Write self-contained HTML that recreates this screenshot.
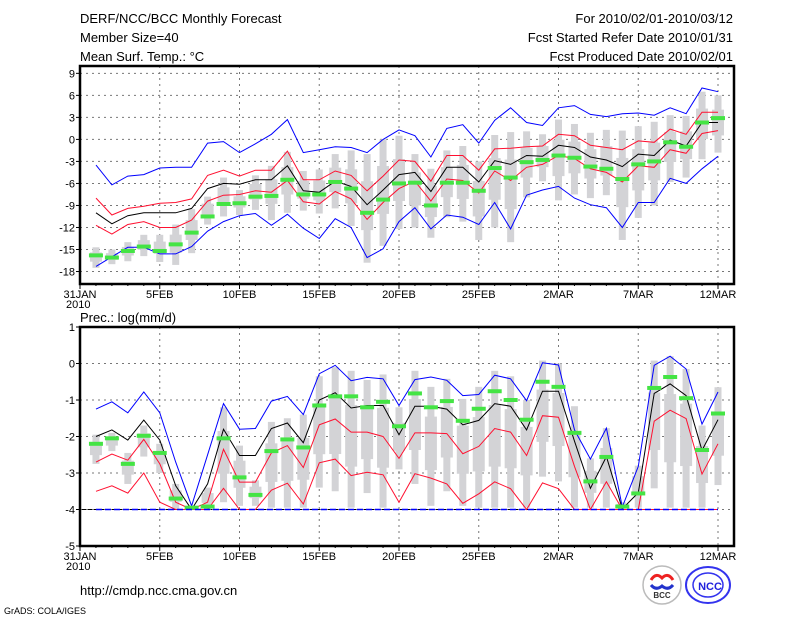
<!DOCTYPE html>
<html><head><meta charset="utf-8"><style>
html,body{margin:0;padding:0;background:#fff}
svg{display:block}
text{font-family:"Liberation Sans",sans-serif;fill:#000}
</style></head><body>
<svg id="s" width="800" height="618" xmlns="http://www.w3.org/2000/svg">
<text x="80" y="23" font-size="13">DERF/NCC/BCC Monthly Forecast</text>
<text x="80" y="42" font-size="13">Member Size=40</text>
<text x="80" y="61" font-size="13">Mean Surf. Temp.: °C</text>
<text x="733" y="23" font-size="13" text-anchor="end">For 2010/02/01-2010/03/12</text>
<text x="733" y="42" font-size="13" text-anchor="end">Fcst Started Refer Date 2010/01/31</text>
<text x="733" y="61" font-size="13" text-anchor="end">Fcst Produced Date 2010/02/01</text>
<text x="80" y="322" font-size="13">Prec.: log(mm/d)</text>
<text x="80" y="595" font-size="13">http://cmdp.ncc.cma.gov.cn</text>
<text x="4" y="614" font-size="9">GrADS: COLA/IGES</text>
<g>
<circle cx="662" cy="585" r="19" fill="#fff" stroke="#bbb" stroke-width="1.5"/>
<path d="M651 580 q5 -8 11 -2 q6 -6 11 2" fill="none" stroke="#e22" stroke-width="3"/>
<path d="M651 585 q5 6 11 1 q6 5 11 -1" fill="none" stroke="#23c" stroke-width="3"/>
<text x="662" y="598" font-size="8" text-anchor="middle" font-weight="bold" style="fill:#333">BCC</text>
<ellipse cx="708" cy="585" rx="22" ry="18" fill="#fff" stroke="#33e" stroke-width="2"/>
<ellipse cx="708" cy="585" rx="15" ry="12" fill="none" stroke="#33e" stroke-width="1.5"/>
<text x="710" y="590" font-size="11" font-weight="bold" text-anchor="middle" style="fill:#22d">NCC</text>
</g>
</svg>
<script>
var S=document.getElementById('s'),NS='http://www.w3.org/2000/svg';
function el(t,a,txt){var e=document.createElementNS(NS,t);for(var k in a)e.setAttribute(k,a[k]);if(txt!=null)e.textContent=txt;S.appendChild(e);return e;}
var X0=80,DX=15.95;function X(d){return X0+d*DX;}
var T=[
[-3.5,-8,-10,-11.7,-17.3,-15.8,-14.7,-17.5],
[-6.2,-10.3,-11.5,-12.9,-16,-16.1,-15,-17],
[-5,-9.4,-10.4,-11.6,-14.7,-15.2,-14,-16.6],
[-4.8,-9.1,-10,-11.2,-14.7,-14.6,-13,-15.9],
[-3.9,-8.7,-10,-12,-15.6,-15.2,-13,-16.7],
[-3.8,-8.6,-10,-12,-15.6,-14.3,-11.6,-17.1],
[-3.8,-8.1,-9.4,-11,-14.6,-12.7,-9.5,-15.5],
[-0.5,-4.9,-6.7,-8.4,-12.5,-10.5,-7.8,-11.6],
[-0.3,-4.2,-6,-7.6,-11.2,-8.8,-5.2,-10.5],
[-1.8,-5,-6.1,-7.5,-10.4,-8.7,-6.9,-10.3],
[-0.6,-4.2,-5.5,-7,-10.1,-7.8,-4.9,-9.6],
[0.7,-4.2,-5.5,-7.2,-11.7,-7.7,-3.6,-11],
[2.7,-1.6,-3.6,-5.6,-10.2,-5.5,-1.7,-10],
[-1.8,-5.5,-7,-8.5,-12.1,-7.5,-4.3,-9.7],
[-1.4,-5.5,-7.2,-8.8,-13.5,-7.5,-4.1,-10.1],
[-1,-4.3,-5.7,-7.1,-10.8,-5.8,-2,-9.4],
[-1.1,-4.9,-6.4,-8.1,-12,-6.7,-1.5,-11.8],
[-1.8,-7,-8.9,-10.9,-16.1,-10,-2,-16.8],
[0,-5,-6.9,-8.6,-14.9,-8.2,0,-14.5],
[1.3,-2.8,-4.8,-6.7,-11.2,-6,0.5,-12.2],
[0.5,-3,-4.5,-5.7,-9.3,-5.9,-2,-12],
[-2.4,-5.7,-7.1,-8.4,-12.2,-9,-4,-13.4],
[1.5,-2.2,-3.8,-5.4,-10.3,-5.9,-1.5,-10.6],
[2,-2.2,-3.8,-5.6,-10.6,-5.9,-0.9,-11.2],
[-0.5,-4.2,-5.8,-7.3,-11.6,-7,-3,-13.7],
[2.6,-1.3,-2.9,-4.3,-8.6,-3.9,0.6,-12],
[4.3,-1.2,-3.4,-5.6,-12.2,-5.2,1,-14],
[2.3,-1,-2.2,-3.8,-7.6,-3.1,1.1,-7.9],
[1.9,-0.9,-2.3,-3.4,-6.9,-2.8,0.7,-5.7],
[4.3,0.7,-0.8,-2.2,-6.4,-2.2,2.7,-8.3],
[4.6,0.5,-1.1,-2.6,-8,-2.5,2.1,-7.5],
[3.4,-0.8,-2.4,-4,-8.9,-3.7,0.9,-8],
[3.1,-1.1,-2.8,-4.5,-9.3,-4,1.3,-7.6],
[3.5,-1.4,-3.7,-5.8,-12,-5.4,1.2,-13.7],
[3.6,-0.2,-2,-3.6,-8.6,-3.4,1.8,-10.7],
[3.3,-0.4,-2.2,-3.8,-8.6,-3,2.4,-9],
[4.3,1.4,-0.1,-1.4,-5.3,-0.4,3.3,-5.8],
[3.5,0.7,-0.9,-1.9,-6,-1,3.2,-5.2],
[7,3.7,2.3,0.8,-4,2.3,6.5,-2.7],
[6.5,3.7,2.3,1.2,-2.3,2.9,6,-1.8]];
var B=[
[-1.25,-2,-2.7,-3.5,-2.2,-1.95,-2.75],
[-1.05,-1.82,-2.48,-3.35,-2.05,-1.9,-2.4],
[-1.35,-2.1,-2.65,-3.55,-2.75,-2.45,-3.3],
[-0.78,-1.55,-2.08,-3,-1.98,-1.7,-2.55],
[-1.35,-2.1,-2.75,-3.8,-2.45,-2.2,-3],
[-2.7,-3.35,-3.8,-4,-3.7,-3.3,-4],
[-3.9,-4,-4,-4,-3.95,-3.9,-4],
[-2.5,-3.3,-3.8,-4,-3.92,-3.4,-4],
[-1.1,-1.8,-2.35,-3.42,-2.05,-1.2,-3.8],
[-1.8,-2.52,-3.25,-4,-3.12,-2.25,-3.9],
[-1.78,-2.52,-3.25,-4,-3.6,-3.2,-3.9],
[-1.03,-1.78,-2.45,-3.47,-2.4,-1.6,-3.95],
[-0.9,-1.63,-2.25,-3.28,-2.08,-1.5,-3.95],
[-1.4,-2.17,-2.85,-3.85,-2.3,-1.4,-3.95],
[-0.28,-1,-1.68,-2.72,-1.15,-0.35,-3.4],
[-0.05,-0.8,-1.52,-2.62,-0.9,-0.1,-3.5],
[-0.47,-1.22,-1.88,-3.07,-0.9,-0.2,-3.95],
[-0.38,-1.15,-1.88,-2.98,-1.2,-0.45,-3.55],
[-0.42,-1.15,-2,-3.05,-1.05,-0.3,-3.95],
[-1.15,-1.95,-2.6,-3.8,-1.72,-1.2,-2.9],
[-0.44,-1.17,-1.9,-3.02,-0.82,-0.2,-3.3],
[-0.37,-1.17,-1.9,-3.14,-1.2,-0.64,-3.9],
[-0.46,-1.25,-1.92,-3.3,-1.03,-0.42,-3.5],
[-0.88,-1.68,-2.47,-3.83,-1.57,-0.97,-3.9],
[-0.85,-1.56,-2.27,-3.57,-1.24,-0.64,-3.95],
[-0.32,-1.1,-1.78,-3.24,-0.76,-0.2,-3.95],
[-0.42,-1.17,-1.88,-3.43,-1,-0.35,-3.95],
[-1.02,-1.82,-2.52,-4,-1.54,-1,-3.95],
[0.02,-0.76,-1.43,-3.27,-0.5,0.08,-3.1],
[-0.04,-0.76,-1.47,-3.43,-0.64,0,-3.23],
[-1.82,-2.13,-2.82,-4,-1.9,-1.17,-3.95],
[-2.62,-3.42,-4,-4,-3.23,-2.6,-3.95],
[-1.77,-2.55,-3.24,-4,-2.56,-1.77,-3.95],
[-3.93,-3.98,-4,-4,-3.92,-3.8,-3.98],
[-2.82,-3.54,-4,-4,-3.56,-2.8,-3.95],
[-0.05,-0.82,-1.58,-4,-0.67,0.08,-3.42],
[0.2,-0.56,-1.28,-4,-0.37,0.2,-3.95],
[-0.15,-0.88,-1.51,-4,-0.95,-0.15,-3.95],
[-1.66,-2.38,-3.03,-4,-2.37,-1.7,-3.95],
[-0.78,-1.54,-2.2,-4,-1.37,-0.65,-3.33]];
function panel(top,bot,vTop,vBot,yt,grid,cols,data,gi){
 var Y=function(v){return top+(vTop-v)/(vTop-vBot)*(bot-top);};
 grid.forEach(function(v){el('line',{x1:80,x2:734,y1:Y(v),y2:Y(v),stroke:'#777','stroke-width':1,'stroke-dasharray':'2,4'});});
 for(var d=5;d<=40;d+=5)el('line',{x1:X(d),x2:X(d),y1:top,y2:bot,stroke:'#777','stroke-width':1,'stroke-dasharray':'2,4'});
 data.forEach(function(r,i){var d=i+1,mx=r[gi+1],mn=r[gi+2],x=X(d);
  el('rect',{x:x-3.5,y:Y(mx),width:7,height:Math.max(1,Y(mn)-Y(mx)),fill:'#d3d3d6'});
  var q1=mx-(mx-mn)*0.25,q3=mx-(mx-mn)*0.7;
  el('rect',{x:x-6,y:Y(q1),width:12,height:Math.max(1,Y(q3)-Y(q1)),fill:'#d3d3d6'});
 });
 cols.forEach(function(c){var p=data.map(function(r,i){return X(i+1).toFixed(1)+','+Y(r[c[0]]).toFixed(1);}).join(' ');
  el('polyline',{points:p,fill:'none',stroke:c[1],'stroke-width':1});});
 data.forEach(function(r,i){el('rect',{x:X(i+1)-7,y:Y(r[gi])-2,width:14,height:4,fill:'#44e444'});});
 el('rect',{x:80,y:top,width:654,height:bot-top,fill:'none',stroke:'#000','stroke-width':2.5});
 yt.forEach(function(v){el('line',{x1:76,x2:80,y1:Y(v),y2:Y(v),stroke:'#000'});el('text',{x:75,y:Y(v)+4,'font-size':11,'text-anchor':'end'},String(v));});
 for(var d=0;d<=40;d++){el('line',{x1:X(d),x2:X(d),y1:bot,y2:bot+(d%5==0?5:2),stroke:'#000'});}
 var L=['31JAN','5FEB','10FEB','15FEB','20FEB','25FEB','2MAR','7MAR','12MAR'];
 L.forEach(function(s,k){el('text',{x:X(k*5),y:bot+14,'font-size':11,'text-anchor':'middle'},s);});
 el('text',{x:66,y:bot+24,'font-size':11},'2010');
}
panel(66,284,10,-19.7,[9,6,3,0,-3,-6,-9,-12,-15,-18],[9,6,3,0,-3,-6,-9,-12,-15,-18],
 [[0,'#0000ff'],[4,'#0000ff'],[1,'#ff1030'],[3,'#ff1030'],[2,'#000']],T,5);
(function(){var top=327,bot=546,Y=function(v){return top+(1-v)/6*(bot-top);};
 el('line',{x1:X(0),x2:X(40),y1:Y(-4),y2:Y(-4),stroke:'#000','stroke-width':1});})();
panel(327,546,1,-5,[1,0,-1,-2,-3,-4,-5],[0,-1,-2,-3,-4],
 [[0,'#0000ff'],[2,'#ff1030'],[3,'#ff1030'],[1,'#000']],B,4);
(function(){var top=327,bot=546,Y=function(v){return top+(1-v)/6*(bot-top);};
 el('line',{x1:X(1),x2:X(40),y1:Y(-4),y2:Y(-4),stroke:'#0000ff','stroke-width':1.5,'stroke-dasharray':'6,3'});})();
</script>
</body></html>
